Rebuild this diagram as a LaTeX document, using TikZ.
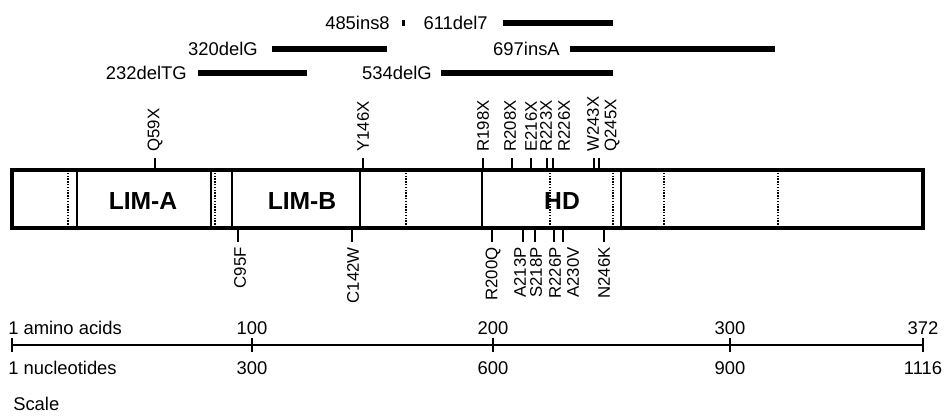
\documentclass[tikz,border=0pt]{standalone}
\usepackage{fontspec}
\setmainfont{Liberation Sans}

\begin{document}
\begin{tikzpicture}[x=0.75pt,y=-0.75pt,
  txt/.style={font=\fontsize{13.8}{16}\selectfont,inner sep=0pt},
  mut/.style={font=\fontsize{12.6}{15}\selectfont,inner sep=0pt,rotate=90},
  dom/.style={font=\fontsize{18.5}{22}\selectfont\bfseries,inner sep=0pt},
  bar/.style={line width=5.2pt},
  sep/.style={line width=1.5pt},
  dots/.style={line width=1.1pt,densely dotted},
  tick/.style={line width=1.4pt}]
  \useasboundingbox (0,0) rectangle (945,416);
  \foreach \a/\b/\y/\n/\e in {198/307/73/232delTG/187, 272/387/49/320delG/258,
      441/613/73/534delG/432, 570/775/49/697insA/560, 503/613/23/611del7/488,
      401.5/404.8/23/485ins8/390}{
    \coordinate (s\n) at (\a,\y);
    \coordinate (e\n) at (\b,\y);
    \draw[bar] (s\n) -- (e\n);
    \node[txt,anchor=east] (n\n) at (\e,\y) {\n};
  }
  \node[dom] (limA) at (143,201) {LIM-A};
  \node[dom] (limB) at (302,201) {LIM-B};
  \node[dom] (hd) at (562,201) {HD};
  \foreach \x in {77,211,232,360,482,621}
    \draw[sep] (\x,170) -- (\x,228);
  \foreach \x in {68,215,406,550,613,664,778}
    \draw[dots] (\x,170) -- (\x,228);
  \coordinate (pA) at (12,170);
  \coordinate (pB) at (923,228);
  \draw[line width=2.3pt] (pA) rectangle (pB);
  \foreach \t/\l/\n in {155/155/Q59X, 363/363/Y146X, 483/483/R198X, 512/510/R208X,
      531/531/E216X, 547/546/R223X, 553/564/R226X, 594/593/W243X, 599/612/Q245X}{
    \coordinate (a\n) at (\t,170);
    \coordinate (b\n) at (\t,158);
    \draw[tick] (a\n) -- (b\n);
    \node[mut,anchor=west] (m\n) at (\l,152) {\n};
  }
  \foreach \t/\l/\n in {238/240/C95F, 352/353/C142W, 492/493/R200Q, 523/520/A213P,
      535/536/S218P, 554/555/R226P, 563/573/A230V, 604/604/N246K}{
    \coordinate (a\n) at (\t,228);
    \coordinate (b\n) at (\t,242);
    \draw[tick] (a\n) -- (b\n);
    \node[mut,anchor=east] (m\n) at (\l,247) {\n};
  }
  \coordinate (z0) at (12,345);
  \coordinate (z1) at (923,345);
  \draw[line width=1.4pt] (z0) -- (z1);
  \draw[tick] (12,338) -- (12,352);
  \node[txt,anchor=west] (aa) at (8,328) {1 amino acids};
  \node[txt,anchor=west] (nt) at (8,368) {1 nucleotides};
  \foreach \x/\p/\q in {252/100/300, 493/200/600, 730/300/900, 923/372/1116}{
    \draw[tick] (\x,338) -- (\x,352);
    \node[txt] (aa\p) at (\x,328) {\p};
    \node[txt] (nt\q) at (\x,368) {\q};
  }
  \node[txt,anchor=west] (scale) at (13,404) {Scale};
\end{tikzpicture}
\end{document}
